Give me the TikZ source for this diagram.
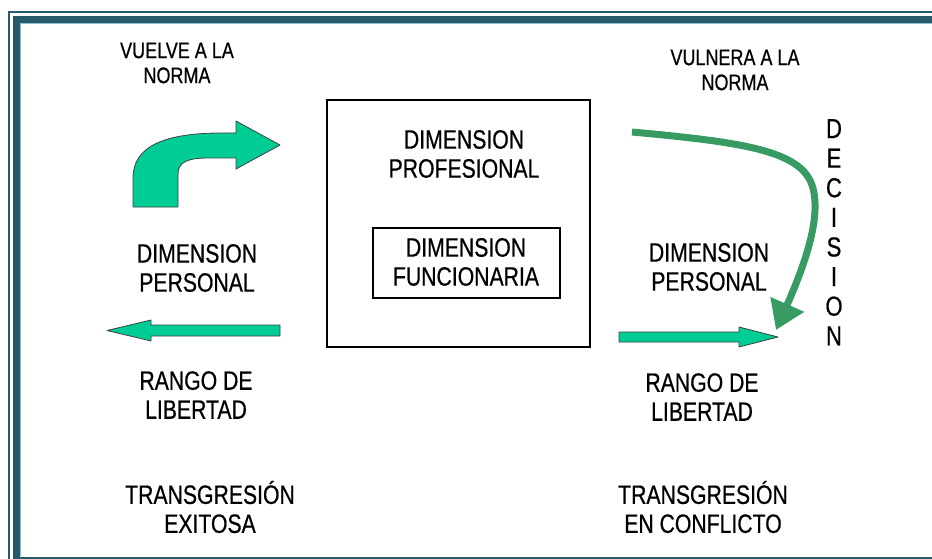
\documentclass[tikz,border=0pt]{standalone}
\usepackage{fontspec}
\setmainfont{Liberation Sans}[FakeStretch=0.8, FakeBold=0.6]
\usetikzlibrary{arrows.meta}

\definecolor{framecol}{RGB}{36,90,105}
\definecolor{frameedge}{RGB}{150,190,200}
\definecolor{arrowfill}{RGB}{0,204,150}
\definecolor{curvegreen}{RGB}{56,155,100}

\tikzset{
  lbl/.style={align=center, inner sep=0pt, font=\fontsize{26.5}{29}\selectfont},
  smalllbl/.style={align=center, inner sep=0pt, font=\fontsize{22.5}{25}\selectfont},
  blockarrow/.style={fill=arrowfill, draw=black!75, line width=0.8pt, line join=round},
  dimbox/.style={draw, line width=1.5pt}
}

\begin{document}
\begin{tikzpicture}[x=1pt, y=-1pt]
\clip (0,0) rectangle (932,559);

% Frame
\draw[framecol, line width=2pt] (8.5,570) |- (950,12);
\draw[framecol, line width=7pt] (16,560.5) |- (950,19.5) -- (950,560.5) -- cycle;
\draw[frameedge, line width=0.8pt] (19.9,556.3) |- (950,23.4);

% Top labels
\node[smalllbl] (vuelve) at (177,63) {VUELVE A LA\\NORMA};
\node[smalllbl] (vulnera) at (735,70) {VULNERA A LA\\NORMA};

% Central boxes
\draw[dimbox] (327,100) rectangle (590,347);
\node[lbl] (profesional) at (464,154) {DIMENSION\\PROFESIONAL};
\node[dimbox, minimum width=187pt, minimum height=70pt, inner sep=0pt] (funcbox) at (466.5,263) {};
\node[lbl] (funcionaria) at (466,262) {DIMENSION\\FUNCIONARIA};

% Left side
\draw[blockarrow] (133,207) -- (133,178)
    .. controls (133,146) and (165,133) .. (222,133) -- (236,133)
    -- (236,121) -- (280,145) -- (236,169) -- (236,158) -- (208,158)
    .. controls (188,158) and (178,162) .. (178,174) -- (178,207) -- cycle;
\node[lbl] (personal-l) at (197,268) {DIMENSION\\PERSONAL};
\draw[blockarrow] (280,325) -- (151,325) -- (151,320) -- (107,330.5)
    -- (151,341) -- (151,336) -- (280,336) -- cycle;
\node[lbl] (rango-l) at (196,395) {RANGO DE\\LIBERTAD};
\node[lbl] (exitosa) at (210,507) {TRANSGRESIÓN\\EXITOSA};

% Right side
\node[lbl] (personal-r) at (709,267) {DIMENSION\\PERSONAL};
\draw[blockarrow] (619,332) -- (739,332) -- (739,327) -- (778,337)
    -- (739,347) -- (739,342) -- (619,342) -- cycle;
\coordinate (curvestart) at (632,132);
\coordinate (curveend) at (776,330);
\draw[curvegreen, line width=7pt, -{Triangle[length=28pt, width=35pt]}]
    (curvestart) .. controls (740,142) and (800,150) .. (812,185)
    .. controls (822,215) and (806,262) .. (curveend);
\node[lbl] (rango-r) at (702,397) {RANGO DE\\LIBERTAD};
\node[lbl] (conflicto) at (703,507) {TRANSGRESIÓN\\EN CONFLICTO};

% DECISION
\foreach \c [count=\i] in {D,E,C,I,S,I,O,N}
    \node[lbl, font=\fontsize{27.5}{29}\selectfont] (dec\i) at (834,99+29.6*\i) {\c};

\end{tikzpicture}
\end{document}
